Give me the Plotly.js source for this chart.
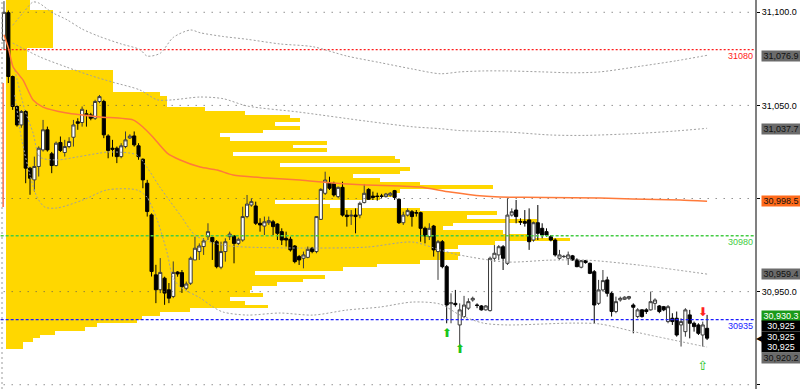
<!DOCTYPE html>
<html><head><meta charset="utf-8">
<script src="https://cdn.plot.ly/plotly-3.0.1.min.js"></script>
<style>html,body{margin:0;padding:0;background:#fff}#chart{width:800px;height:389px}</style>
</head><body><div id="chart"></div>
<script>
// ---- candles (OHLC) ----
const open = [31085,31099.8,31065.5,31049.4,31039.5,31046.7,31016.3,31010,31017.2,31026.1,
31036.9,31024,31017.7,31030.1,31024.7,31027.9,31032.9,31041.2,31040.8,31045.5,
31044.9,31043.1,31052.1,31052.1,31033.6,31027,31027,31022.5,31027.9,31032.5,
31033.6,31028.3,31021.1,31008.2,30991.2,30959,30951,30957.2,30951,30947.4,
30960.5,30960.2,30951.8,30954.5,30967,30971.5,30974.2,30979.5,30979.1,30976.8,
30963.1,30971.5,30979.5,30979.9,30975.9,30977.7,30990.3,30996.5,30996,30986.7,
30985.2,30987,30987.5,30986.3,30982.2,30978.6,30978.1,30974.5,30968.8,30967.9,
30968.4,30973.3,30971.5,30988.8,31002.8,31008.5,31008.1,31001,31006,30991.1,
30990.6,30991.1,30991.1,30997.8,31004.9,31001.3,31001.3,31001.3,31001,31001.8,
31004.2,30999.6,30987,30991.1,30992.9,30992.4,30992.4,30984,30979.5,30985.2,
30971.5,30976.8,30963.4,30943.5,30943.7,30932.1,30936.6,30941.1,30945.5,30942.8,
30942.3,30940.2,30939.8,30967.9,30969.7,30974.1,30965.2,30991.1,30993.8,30987.6,
30987.6,30988.5,30977.7,30987,30984,30982.2,30979.5,30977.7,30967.9,30968.8,
30967.9,30969.2,30967,30963.1,30966.6,30965.2,30960.7,30943.7,30950.9,30956.3,
30949.1,30939.3,30945.5,30945.9,30946.4,30942.8,30936.6,30940.2,30940.2,30940.2,
30943.7,30942.3,30941.9,30933.9,30935.7,30935.7,30932.1,30928.5,30937.5,30933,
30932.1,30926.7,30930.3];
const high = [31106,31101,31066,31050,31047.5,31047.5,31017,31022.5,31028,31042.2,
31038.6,31025,31030.6,31033.3,31031.5,31032.9,31042.2,31043.1,31049.4,31047.6,
31046,31053,31055.6,31053,31034.5,31031.5,31027.9,31029.7,31036,31034.5,
31036,31029.7,31021.5,31010,30992,30964.4,30968,30958,30954.6,30966.2,
30961,30961.6,30955.4,30968.8,30979.5,30975.9,30978.6,30986.7,30979.5,30977.7,
30976.8,30978.6,30982.2,30980.4,30979,30995.6,31001.9,31000.1,30998.3,30989.4,
30990.3,30990.3,30988.5,30986.7,30984,30982.2,30979.5,30975,30969.7,30971.5,
30974.2,30974,30990.6,31005.5,31014.4,31011.7,31009,31006.4,31009,30993.8,
30993.8,30994.7,30998.3,31007.8,31005.5,31003.7,31003.1,31002.5,31003,31003.5,
31004.6,31000.1,30992.9,30994.7,30993.8,30993.8,30992.9,30984.9,30986.7,30985.8,
30977.7,30977.7,30964.3,30949.1,30950.9,30943.7,30947.7,30946.4,30947.3,30943.7,
30942.8,30942.8,30968.8,30975,30975,30975,31000.1,30994.7,30999.2,30989.4,
30993.8,30994.7,30987.6,30996.5,30986.7,30984,30980.4,30978.6,30972.4,30969.7,
30971.5,30969.7,30967.9,30967,30967,30965.6,30961.6,30956.3,30961.6,30958,
30950,30947.3,30947.3,30947.5,30947.7,30943.7,30941.1,30940.5,30941.1,30950,
30946.4,30942.8,30942.3,30942.8,30938.4,30939.3,30935.7,30941.1,30940.2,30933.9,
30933,30933.9,30937.5];
const low = [31080,31062,31047.6,31038.6,31038,31008.2,31002,31003.8,31011.8,31025.2,
31025.2,31013.6,31017.2,31025,31022.5,31027,31027.9,31036.9,31038.6,31038.6,
31042,31042.2,31051.2,31032.4,31021.6,31022.5,31019,31021.6,31027,31032,
31027.9,31020.8,31005.5,30990.3,30958.1,30943.8,30949.2,30942.9,30943.8,30946.5,
30958,30949.3,30950.9,30953.6,30967,30967,30969.7,30977.7,30967,30962.5,
30962,30966.1,30977.7,30965.2,30975,30976.8,30989.4,30995.6,30985.8,30982.2,
30980.4,30985.8,30980.4,30977.7,30975,30974.2,30971.5,30965.2,30964.3,30962.5,
30967.9,30970.6,30970.6,30988.5,31001.9,31004.6,31001,31000.1,30990.3,30984.9,
30985.8,30981.3,30989.4,30997.4,30999.2,30999.2,30998.8,31000,31000.5,31001,
30999.2,30986.3,30985.8,30990.3,30984.9,30990.3,30976.8,30975.9,30977.7,30968.8,
30956.3,30962.5,30933,30933,30941.9,30920.5,30935.7,30940.2,30944.6,30941.1,
30939.8,30939.8,30939.3,30966.1,30967,30961.6,30964.3,30990.3,30986.7,30985.8,
30984.9,30972.4,30976.8,30977.7,30978.6,30979.5,30977,30968.8,30967,30968,
30964.3,30966.6,30963.1,30962.5,30965,30959.4,30933,30942.8,30950,30947.3,
30936.6,30938.4,30944.6,30945.5,30945.5,30927.6,30935.7,30936,30938,30939.8,
30940.2,30938.4,30939.5,30933,30932.1,30925.8,30920.5,30925.8,30924.9,30928.5,
30926.7,30920.5,30924];
const close = [31100,31065.5,31049.4,31039.5,31046.7,31016.3,31010.9,31017.2,31027,31036.9,
31026.1,31017.7,31029.7,31025.8,31027.9,31030.6,31039.5,31040.4,31047.9,31044.9,
31043.1,31052.1,31054.7,31034.2,31025.8,31026.5,31022.5,31028.3,31031.5,31033.5,
31028.8,31022.5,31010,30993,30960.8,30951,30960.3,30949.2,30946.5,30960.3,
30959.5,30952.7,30954.1,30967.9,30973.3,30974.5,30977.2,30982.2,30976.8,30963.4,
30971.5,30976.8,30980.9,30975.9,30978.1,30990.3,30997,30998.3,30986.7,30985.8,
30987.5,30988.1,30984.9,30981.3,30977.7,30977.7,30972.4,30966.1,30967,30969.7,
30972.7,30971.5,30990.3,31004.9,31009.9,31005.5,31001.9,31006,30991.1,30990.3,
30991,30990.3,30997.4,31002.8,30999.6,31000.6,31001.1,31001.2,31002.4,31002.8,
31000.6,30987,30991.1,30993.5,30990.3,30992.2,30984,30979.9,30984,30972.4,
30976.8,30963.4,30942.8,30944,30943,30940.2,30942.8,30944.6,30946.4,30942.6,
30940.2,30942.3,30967.9,30970.6,30974.1,30967.9,30991.1,30992.9,30990.3,30987.4,
30986.7,30976.8,30987,30981.3,30980.4,30980.4,30977.7,30969.7,30969.7,30968.9,
30969.7,30967,30963.4,30966.6,30965.6,30959.8,30942.8,30950.9,30955.9,30949.1,
30939.3,30944.6,30946.4,30947,30947.3,30941.6,30940.2,30936.6,30939.3,30944.6,
30945.5,30939.3,30940.2,30941.9,30933.9,30926.7,30933.9,30940.2,30933,30931.2,
30927.6,30932.1,30925];
const barIdx = open.map((_, i) => i);

// ---- VWAP and deviation bands (bar index, price) ----
const vwapX = [0,1,2.1,4.4,6.7,9,14.5,22,29.7,32,34.3,37.6,40.6,45.2,49.1,52.8,60.6,68.2,75.8,83.6,91.2,95.9,102.8,110.4,114.3,125,137.3,144.9,155.8,162];
const vwapY = [31088,31081,31070.6,31063.6,31052.9,31049.1,31045.9,31043.8,31042.2,31038.4,31033,31024.4,31020.7,31016.9,31015.3,31012.6,31011,31009.9,31008.3,31007.3,31006.7,31006.2,31003.5,31001.3,31000.8,31000.5,31000.3,30999.7,30999.2,30998.5];
const up2X = [2,4.5,6.7,8,11,14.5,18,22,27,31.3,33,36,39,43,45.2,50.5,56,63.6,71.2,79,86.6,94.2,100.5,105.1,110.4,115.9,124,131.1,137.3,146.5,155,162];
const up2Y = [31093,31100,31105.5,31105,31100,31096,31091,31087,31083,31080,31076.5,31078,31086.5,31090.5,31089,31087,31085.5,31083,31081.5,31076.5,31073,31069.5,31067,31068,31068.5,31068.5,31068,31067.5,31068,31071,31074,31076.9];
const up1X = [2,8.3,14.5,20,25,31.3,35.3,38.9,45.2,50.5,56,68,83.6,94.2,100.5,105,116,126,134,146.5,155,162];
const up1Y = [31083.5,31076,31070.5,31066,31062.5,31058.3,31053,31053,31054.5,31053.6,31049.7,31046.4,31041.5,31038.5,31037.5,31036.5,31035.7,31034.1,31033.9,31035,31036.3,31037.7];
const lo1X = [2.5,4.8,6.7,8.3,12.2,16.8,22.1,24.4,30.6,32.9,35.9,40.6,44,48.2,52,56,68.2,83.6,94.2,100.5,105.1,115.9,125.8,134.3,146.5,162];
const lo1Y = [31069,31047.5,31035.2,31022.3,31020.7,31022.3,31024.4,31025,31023.4,31016.9,31006.2,30991.1,30980.4,30976.1,30974.5,30973.9,30973.4,30973.9,30976.6,30972.3,30969.6,30965.9,30966.9,30966.9,30964.2,30959.4];
const lo2X = [2.5,4.1,6,7.6,9.4,12.2,18.2,23.7,30.6,32.9,35.3,37.6,38.9,40.6,45.2,48.2,50.5,56,63.6,71.2,79,86.6,94.2,100.5,105.1,110.4,115.9,131.1,137.3,146.5,162];
const lo2Y = [31055.6,31031.4,31012.6,31000.8,30995.4,30994.9,30999.2,31004.6,31004.6,31000.8,30988.5,30970.7,30957.8,30952.5,30946.6,30941.7,30939,30937.4,30938.5,30937.4,30940.1,30941.7,30944.4,30943.3,30937.4,30933.1,30932.1,30933.1,30932.6,30927.8,30920.2];
const prevVwapX = [-0.2,-0.2];
const prevVwapY = [31062,30995.4];

// ---- volume profile (price row, volume) ----
const profPrice = [31106,31104,31102,31100,31098,31096,31094,31092,31090,31088,31086,31084,31082,31080,31078,31076,31074,31072,31070,31068,
31066,31064,31062,31060,31058,31056,31054,31052,31050,31048,31046,31044,31042,31040,31038,31036,31034,31032,31030,31028,
31026,31024,31022,31020,31018,31016,31014,31012,31010,31008,31006,31004,31002,31000,30998,30996,30994,30992,30990,30988,
30986,30984,30982,30980,30978,30976,30974,30972,30970,30968,30966,30964,30962,30960,30958,30956,30954,30952,30950,30948,
30946,30944,30942,30940,30938,30936,30934,30932,30930,30928,30926,30924,30922,30920];
const profVol = [24,24,24,47,47,47,47,47,47,47,47,47,47,21,21,21,21,21,21,107,
107,107,107,107,107,154,161,161,161,199,239,284,294,269,294,257,214,224,321,287,
321,227,389,394,274,404,394,347,374,414,487,394,389,374,269,324,414,491,461,531,
447,437,497,521,564,489,452,434,454,452,414,371,337,249,319,297,271,246,244,257,
224,239,262,184,154,136,131,91,79,49,34,27,17,17];

// ---- levels ----
const gridLevels = [30900,30950,31000,31050,31100];
const refLevels = [31080,30980,30935];
const refNames = ['31080','30980','30935'];
const refColors = ['#ff1a1a','#44cc44','#1a1aff'];
const refDash = ['2px,2px','3px,2px','3px,2px'];

// ---- signals ----
const sigUpX = [102,105], sigUpY = [30927.3,30918.4];
const sigDnX = [161], sigDnY = [30938.5];
const sigOpenX = [161], sigOpenY = [30909.5];

// ---- right-side value labels ----
const tagText = ['31,076.9','31,037.7','30,998.5','30,959.4','30,930.3','30,925','30,925','30,925','30,920.2'];
const tagPrice = [31076.6,31037.4,30998.7,30959.5,30936.9,30931.3,30925.6,30920.0,30914.1];
const tagBg = ['#6b6b6b','#6b6b6b','#ff6a1a','#6b6b6b','#1a9a1a','#000000','#000000','#000000','#6b6b6b'];
const tagFg = ['#111111','#111111','#111111','#111111','#ffffff','#ffffff','#ffffff','#ffffff','#111111'];

const FONT = 'Liberation Sans, Arial, sans-serif';
const XR = [-0.92, 173.04];

const traces = [];
// profile on the base x axis (drawn first, underneath)
traces.push({type:'bar', orientation:'h', x:profVol, y:profPrice, width:2.06, xaxis:'x', yaxis:'y',
  marker:{color:'#ffd700', line:{width:0}}, hoverinfo:'skip'});

// everything else on the overlaying bar-index axis x2 (drawn above)
const gx = [], gy = [];
gridLevels.forEach(v => { gx.push(XR[0]-1, XR[1]+1, null); gy.push(v, v, null); });
traces.push({type:'scatter', mode:'lines', xaxis:'x2', x:gx, y:gy, line:{color:'#5a5a5a', width:1, dash:'1px,7px'}, hoverinfo:'skip'});

refLevels.forEach((v, k) => {
  traces.push({type:'scatter', mode:'lines', xaxis:'x2', x:[XR[0]-1, XR[1]+1], y:[v, v],
    line:{color:refColors[k], width:1.3, dash:refDash[k]}, hoverinfo:'skip'});
});

const bandStyle = {color:'#a0a0a0', width:1, dash:'2px,2px', shape:'spline', smoothing:0.8};
[[up2X,up2Y],[up1X,up1Y],[lo1X,lo1Y],[lo2X,lo2Y]].forEach(([bx,by]) => {
  traces.push({type:'scatter', mode:'lines', xaxis:'x2', x:bx, y:by, line:bandStyle, hoverinfo:'skip'});
});
traces.push({type:'scatter', mode:'lines', xaxis:'x2', x:vwapX, y:vwapY, line:{color:'#ff7a3a', width:1.5, shape:'spline', smoothing:0.6}, hoverinfo:'skip'});
traces.push({type:'scatter', mode:'lines', xaxis:'x2', x:prevVwapX, y:prevVwapY, line:{color:'#ff6a40', width:1.5}, hoverinfo:'skip'});

traces.push({type:'candlestick', xaxis:'x2', x:barIdx, open:open, high:high, low:low, close:close,
  increasing:{line:{color:'#3a3a3a', width:1}, fillcolor:'#ffffff'},
  decreasing:{line:{color:'#000000', width:1}, fillcolor:'#000000'},
  whiskerwidth:0, hoverinfo:'skip'});

traces.push({type:'scatter', mode:'text', xaxis:'x2', x:sigUpX, y:sigUpY, text:sigUpX.map(()=>'⬆'), textfont:{color:'#19c419', size:12, family:'DejaVu Sans'}, hoverinfo:'skip'});
traces.push({type:'scatter', mode:'text', xaxis:'x2', x:sigDnX, y:sigDnY, text:sigDnX.map(()=>'⬇'), textfont:{color:'#ff2020', size:12, family:'DejaVu Sans'}, hoverinfo:'skip'});
traces.push({type:'scatter', mode:'text', xaxis:'x2', x:sigOpenX, y:sigOpenY, text:sigOpenX.map(()=>'⇧'), textfont:{color:'#19c419', size:13, family:'DejaVu Sans'}, hoverinfo:'skip'});

const annotations = [];
refLevels.forEach((v, k) => {
  annotations.push({xref:'paper', x:1, xanchor:'right', xshift:-1, yref:'y', y:v, yanchor:'top',
    text:refNames[k], showarrow:false, borderpad:0, font:{family:FONT, size:9, color:refColors[k]}});
});
tagText.forEach((t, k) => {
  annotations.push({xref:'paper', x:1, xanchor:'left', xshift:6, yref:'y', y:tagPrice[k], yanchor:'middle',
    text:t, showarrow:false, bgcolor:tagBg[k], width:38, height:10, borderpad:0, align:'center',
    font:{family:FONT, size:9, color:tagFg[k]}});
});
annotations.push({xref:'paper', x:1, xanchor:'left', xshift:0, yref:'y', y:close[close.length-1], yanchor:'middle',
  text:'◀', showarrow:false, borderpad:0, font:{family:'DejaVu Sans', size:8, color:'#000'}});

const layout = {
  width:800, height:389,
  margin:{l:0, r:45, t:0, b:0, pad:0},
  paper_bgcolor:'#ffffff', plot_bgcolor:'#ffffff',
  showlegend:false, hovermode:false, dragmode:false, bargap:0,
  boxgap:0.1, boxgroupgap:0.2,
  xaxis:{range:[-6, 749], visible:false, showgrid:false, zeroline:false, fixedrange:true},
  xaxis2:{range:XR, overlaying:'x', visible:false, showgrid:false, zeroline:false, rangeslider:{visible:false}},
  yaxis:{range:[30897.7, 31106.6], side:'right', showgrid:false, zeroline:false,
    tickvals:gridLevels, tickformat:',.1f', ticks:'outside', ticklen:3, tickcolor:'#000',
    tickfont:{family:FONT, size:9, color:'#000'},
    showline:true, linecolor:'#808080', linewidth:2},
  shapes:[{type:'line', xref:'x2', yref:'paper', x0:-0.46, x1:-0.46, y0:0, y1:1,
    line:{color:'#9a9a9a', width:1, dash:'2px,3px'}, layer:'above'}],
  annotations:annotations
};

Plotly.newPlot('chart', traces, layout, {staticPlot:true, displayModeBar:false});
</script></body></html>
